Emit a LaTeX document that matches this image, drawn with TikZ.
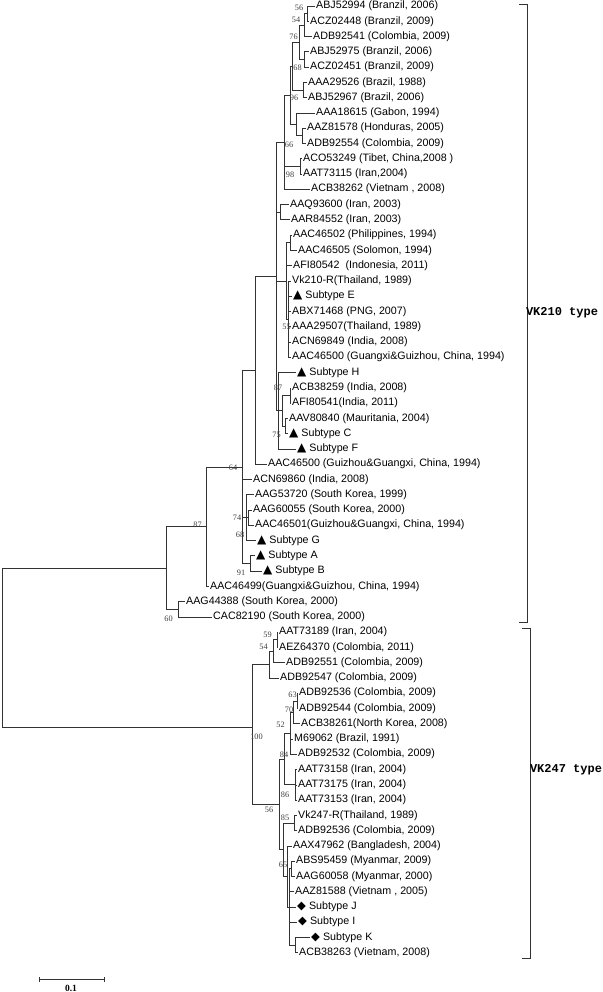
\documentclass[tikz,border=0pt]{standalone}
\usepackage{fontspec}
\setmainfont{Liberation Sans}
\newfontfamily\bsfont{Liberation Serif}
\newfontfamily\symfont{DejaVu Sans}
\newfontfamily\typefont{Liberation Mono}
\newcommand\tri{{\symfont\fontsize{12}{12}\selectfont ▲}\hspace{3pt}}
\newcommand\dia{{\symfont\fontsize{11.5}{12}\selectfont ◆}\hspace{3pt}}
\tikzset{
  lf/.style={anchor=west, inner sep=1pt, font={\fontsize{10.7}{12}\selectfont}, text height=7.5pt, text depth=2pt},
  br/.style={draw=black!80, line width=0.6pt},
  bs/.style={font={\bsfont\fontsize{8.3}{8}\selectfont}, text=black!75, inner sep=0pt},
  typ/.style={font={\typefont\bfseries\fontsize{12}{12}\selectfont}, inner sep=0pt},
}
\begin{document}
\begin{tikzpicture}[x=1pt,y=-1pt]
\useasboundingbox (0,0) rectangle (602,992);
% ---------- leaves ----------
\node[lf] (L0) at (315,6.0) {ABJ52994 (Branzil, 2006)};
\node[lf] (L1) at (309,21.3) {ACZ02448 (Branzil, 2009)};
\node[lf] (L2) at (312,36.5) {ADB92541 (Colombia, 2009)};
\node[lf] (L3) at (309,51.8) {ABJ52975 (Branzil, 2006)};
\node[lf] (L4) at (309,67.1) {ACZ02451 (Branzil, 2009)};
\node[lf] (L5) at (307,82.4) {AAA29526 (Brazil, 1988)};
\node[lf] (L6) at (307,97.6) {ABJ52967 (Brazil, 2006)};
\node[lf] (L7) at (315,112.9) {AAA18615 (Gabon, 1994)};
\node[lf] (L8) at (306,128.2) {AAZ81578 (Honduras, 2005)};
\node[lf] (L9) at (306,143.4) {ADB92554 (Colombia, 2009)};
\node[lf] (L10) at (302,158.7) {ACO53249 (Tibet, China,2008 )};
\node[lf] (L11) at (302,174.0) {AAT73115 (Iran,2004)};
\node[lf] (L12) at (310,189.2) {ACB38262 (Vietnam , 2008)};
\node[lf] (L13) at (289,204.5) {AAQ93600 (Iran, 2003)};
\node[lf] (L14) at (290,219.8) {AAR84552 (Iran, 2003)};
\node[lf] (L15) at (292,235.1) {AAC46502 (Philippines, 1994)};
\node[lf] (L16) at (297,250.3) {AAC46505 (Solomon, 1994)};
\node[lf] (L17) at (292,265.6) {AFI80542 \ (Indonesia, 2011)};
\node[lf] (L18) at (291,280.9) {Vk210-R(Thailand, 1989)};
\node[lf] (L19) at (292,296.1) {\tri Subtype E};
\node[lf] (L20) at (291,311.4) {ABX71468 (PNG, 2007)};
\node[lf] (L21) at (291,326.7) {AAA29507(Thailand, 1989)};
\node[lf] (L22) at (291,341.9) {ACN69849 (India, 2008)};
\node[lf] (L23) at (291,357.2) {AAC46500 (Guangxi\&Guizhou, China, 1994)};
\node[lf] (L24) at (296,372.5) {\tri Subtype H};
\node[lf] (L25) at (291,387.8) {ACB38259 (India, 2008)};
\node[lf] (L26) at (291,403.0) {AFI80541(India, 2011)};
\node[lf] (L27) at (288,418.3) {AAV80840 (Mauritania, 2004)};
\node[lf] (L28) at (288,433.6) {\tri Subtype C};
\node[lf] (L29) at (296,448.8) {\tri Subtype F};
\node[lf] (L30) at (267,464.1) {AAC46500 (Guizhou\&Guangxi, China, 1994)};
\node[lf] (L31) at (252,479.4) {ACN69860 (India, 2008)};
\node[lf] (L32) at (254,494.6) {AAG53720 (South Korea, 1999)};
\node[lf] (L33) at (252,509.9) {AAG60055 (South Korea, 2000)};
\node[lf] (L34) at (254,525.2) {AAC46501(Guizhou\&Guangxi, China, 1994)};
\node[lf] (L35) at (256,540.5) {\tri Subtype G};
\node[lf] (L36) at (255,555.7) {\tri Subtype A};
\node[lf] (L37) at (262,571.0) {\tri Subtype B};
\node[lf] (L38) at (209,586.3) {AAC46499(Guangxi\&Guizhou, China, 1994)};
\node[lf] (L39) at (185,601.5) {AAG44388 (South Korea, 2000)};
\node[lf] (L40) at (212,616.8) {CAC82190 (South Korea, 2000)};
\node[lf] (L41) at (278,632.1) {AAT73189 (Iran, 2004)};
\node[lf] (L42) at (278,647.3) {AEZ64370 (Colombia, 2011)};
\node[lf] (L43) at (285,662.6) {ADB92551 (Colombia, 2009)};
\node[lf] (L44) at (279,677.9) {ADB92547 (Colombia, 2009)};
\node[lf] (L45) at (298,693.2) {ADB92536 (Colombia, 2009)};
\node[lf] (L46) at (298,708.4) {ADB92544 (Colombia, 2009)};
\node[lf] (L47) at (300,723.7) {ACB38261(North Korea, 2008)};
\node[lf] (L48) at (293,739.0) {M69062 (Brazil, 1991)};
\node[lf] (L49) at (297,754.2) {ADB92532 (Colombia, 2009)};
\node[lf] (L50) at (297,769.5) {AAT73158 (Iran, 2004)};
\node[lf] (L51) at (297,784.8) {AAT73175 (Iran, 2004)};
\node[lf] (L52) at (297,800.0) {AAT73153 (Iran, 2004)};
\node[lf] (L53) at (297,815.3) {Vk247-R(Thailand, 1989)};
\node[lf] (L54) at (297,830.6) {ADB92536 (Colombia, 2009)};
\node[lf] (L55) at (292,845.8) {AAX47962 (Bangladesh, 2004)};
\node[lf] (L56) at (295,861.1) {ABS95459 (Myanmar, 2009)};
\node[lf] (L57) at (295,876.4) {AAG60058 (Myanmar, 2000)};
\node[lf] (L58) at (294,891.7) {AAZ81588 (Vietnam , 2005)};
\node[lf] (L59) at (296,906.9) {\dia Subtype J};
\node[lf] (L60) at (297,922.2) {\dia Subtype I};
\node[lf] (L61) at (310,937.5) {\dia Subtype K};
\node[lf] (L62) at (298,952.7) {ACB38263 (Vietnam, 2008)};
% ---------- internal nodes ----------
\coordinate (n56) at (307,13.65);
\coordinate (n54) at (304,25.1);
\coordinate (n68) at (304,59.45);
\coordinate (n76) at (299,42.3);
\coordinate (n96) at (303,90.0);
\coordinate (nB1) at (292,66.15);
\coordinate (nAZ) at (302,135.8);
\coordinate (nB2) at (296,124.35);
\coordinate (nBB) at (290,95.25);
\coordinate (n98) at (300,166.35);
\coordinate (n66) at (284,142.2);
\coordinate (nAQ) at (280,212.15);
\coordinate (nAC) at (290,242.7);
\coordinate (n55) at (288,319.05);
\coordinate (nE) at (286,280.9);
\coordinate (nACB) at (290,395.4);
\coordinate (n75) at (285,425.95);
\coordinate (n87) at (282,410.7);
\coordinate (nH) at (278,410.65);
\coordinate (X) at (276,276.4);
\coordinate (nG1) at (255,370.25);
\coordinate (n74) at (248,517.55);
\coordinate (n68b) at (246,517.55);
\coordinate (n91) at (250,563.35);
\coordinate (n64) at (242,466.8);
\coordinate (n87b) at (206,526.55);
\coordinate (n60) at (178,609.15);
\coordinate (nUp) at (166,567.85);
\coordinate (n59) at (277,639.7);
\coordinate (n54b) at (273,651.15);
\coordinate (N1) at (269,664.5);
\coordinate (n63) at (297,700.8);
\coordinate (n70) at (293,712.25);
\coordinate (n52) at (290,733.2);
\coordinate (n86) at (295,784.75);
\coordinate (n84) at (284,759.0);
\coordinate (n85) at (294,822.95);
\coordinate (n65s) at (291,868.75);
\coordinate (nK) at (295,945.1);
\coordinate (nBig) at (289,906.9);
\coordinate (nQ) at (287,876.35);
\coordinate (nBot) at (283,849.65);
\coordinate (n56b) at (279,804.3);
\coordinate (n100) at (252,727);
\coordinate (root) at (2,651);
% ---------- branches ----------
\foreach \p/\cs in {n56/{L0.west,L1.west}, n54/{n56,L2.west}, n68/{L3.west,L4.west},
  n76/{n54,n68}, n96/{L5.west,L6.west}, nB1/{n76,n96}, nAZ/{L8.west,L9.west},
  nB2/{L7.west,nAZ}, nBB/{nB1,nB2}, n98/{L10.west,L11.west}, n66/{nBB,n98,L12.west},
  nAQ/{L13.west,L14.west}, nAC/{L15.west,L16.west},
  n55/{L18.west,L19.west,L20.west,L21.west,L22.west,L23.west}, nE/{nAC,L17.west,n55},
  nACB/{L25.west,L26.west}, n75/{L27.west,L28.west}, n87/{nACB,n75},
  nH/{L24.west,n87,L29.west}, X/{n66,nAQ,nE,nH}, nG1/{X,L30.west},
  n74/{L33.west,L34.west}, n68b/{L32.west,n74,L35.west}, n91/{L36.west,L37.west},
  n64/{nG1,L31.west,n68b,n91}, n87b/{n64,L38.west}, n60/{L39.west,L40.west},
  nUp/{n87b,n60}, n59/{L41.west,L42.west}, n54b/{n59,L43.west}, N1/{n54b,L44.west},
  n63/{L45.west,L46.west}, n70/{n63,L47.west}, n52/{n70,L48.west,L49.west},
  n86/{L50.west,L51.west,L52.west}, n84/{n52,n86}, n85/{L53.west,L54.west},
  n65s/{L56.west,L57.west}, nK/{L61.west,L62.west}, nBig/{n65s,L58.west,L59.west,L60.west,nK},
  nQ/{L55.west,nBig}, nBot/{n85,nQ}, n56b/{n84,nBot}, n100/{N1,n56b}, root/{nUp,n100}}
  {\foreach \c in \cs {\draw[br] (\p) |- (\c);}}
% ---------- bootstrap values ----------
\node[bs] (b1) at (299,8) {56};
\node[bs] (b2) at (296,20) {54};
\node[bs] (b3) at (293.5,37) {76};
\node[bs] (b4) at (297.5,68) {68};
\node[bs] (b5) at (294,98) {96};
\node[bs] (b6) at (289,145) {66};
\node[bs] (b7) at (290,175) {98};
\node[bs] (b8) at (286.5,327) {55};
\node[bs] (b9) at (278,388) {87};
\node[bs] (b10) at (276.5,435) {75};
\node[bs] (b11) at (233,468) {64};
\node[bs] (b12) at (197.5,525) {87};
\node[bs] (b13) at (237,518) {74};
\node[bs] (b14) at (240,535) {68};
\node[bs] (b15) at (241,573) {91};
\node[bs] (b16) at (168.5,619) {60};
\node[bs] (b17) at (267.5,635) {59};
\node[bs] (b18) at (263.5,647) {54};
\node[bs] (b19) at (292.5,695) {63};
\node[bs] (b20) at (289,710) {70};
\node[bs] (b21) at (280.5,725) {52};
\node[bs] (b22) at (256.5,737) {100};
\node[bs] (b23) at (284,755) {84};
\node[bs] (b24) at (285,795) {86};
\node[bs] (b25) at (269,810) {56};
\node[bs] (b26) at (285,818) {85};
\node[bs] (b27) at (283,865) {65};
% ---------- brackets ----------
\coordinate (a1) at (519,4); \coordinate (a2) at (527,4);
\coordinate (a3) at (527,622); \coordinate (a4) at (519,622);
\draw[br] (a1) -- (a2) -- (a3) -- (a4);
\node[typ] (t210) at (562,313) {VK210 type};
\coordinate (c1) at (522,628); \coordinate (c2) at (530,628);
\coordinate (c3) at (530,958); \coordinate (c4) at (522,958);
\draw[br] (c1) -- (c2) -- (c3) -- (c4);
\node[typ] (t247) at (566,770) {VK247 type};
% ---------- scale bar ----------
\coordinate (s1) at (39,979); \coordinate (s2) at (104,979);
\draw[br] (s1) -- (s2);
\draw[br] ([yshift=-2.5pt]s1) -- ([yshift=2.5pt]s1);
\draw[br] ([yshift=-2.5pt]s2) -- ([yshift=2.5pt]s2);
\node[font={\bsfont\bfseries\fontsize{9.5}{10}\selectfont}, inner sep=0pt] (sl) at (71,988.5) {0.1};
\end{tikzpicture}
\end{document}
